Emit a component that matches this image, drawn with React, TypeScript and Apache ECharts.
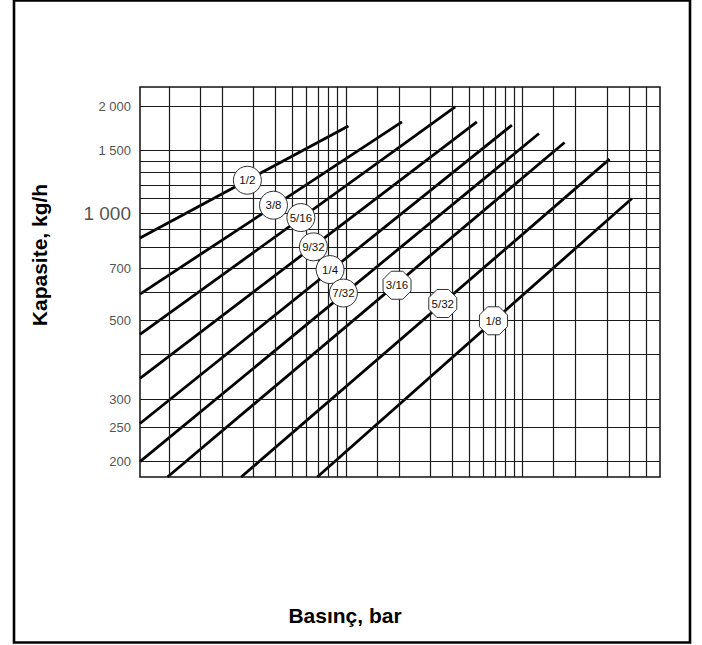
import React, { useEffect, useRef } from "react";
import * as echarts from "echarts";

// Nozzle sizes (inch)
const lineNames = ["1/2", "3/8", "5/16", "9/32", "1/4", "7/32", "3/16", "5/32", "1/8"];
// Pressure (bar) / capacity (kg/h) at each line's start and end
const startPressure = [0.0685, 0.0685, 0.0685, 0.0685, 0.0685, 0.0685, 0.098, 0.256, 0.69];
const startCapacity = [852, 592, 456, 343, 256, 200, 181, 181, 181];
const endPressure = [1.035, 2.08, 4.16, 5.52, 8.71, 12.4, 17.3, 31.1, 41.6];
const endCapacity = [1760, 1807, 1991, 1807, 1769, 1676, 1581, 1419, 1100];
// Label badge positions (on each line)
const labelPressure = [0.2775, 0.39, 0.557, 0.656, 0.815, 0.97, 1.95, 3.54, 6.85];
const labelCapacity = [1238, 1053, 972, 804, 694, 596, 627, 557, 498];
const octagonLabels = ["3/16", "5/32", "1/8"];

// Axes
const xMin = 0.0685;
const xMax = 60;
const yMin = 181;
const yMax = 2265;
const xGridValues = [0.1, 0.15, 0.2, 0.3, 0.4, 0.5, 0.6, 0.7, 0.8, 0.9, 1, 1.5, 2, 3, 4, 5, 6, 7, 8, 9, 10, 15, 20, 30, 40, 50];
const yGridValues = [200, 250, 300, 400, 500, 600, 700, 800, 900, 1000, 1100, 1200, 1300, 1400, 1500, 2000];
const yTickValues = [200, 250, 300, 500, 700, 1000, 1500, 2000];
const yTickTexts = ["200", "250", "300", "500", "700", "1 000", "1 500", "2 000"];

const xTitle = "Basınç, bar";
const yTitle = "Kapasite, kg/h";

const OCTAGON =
  "path://M1.924,1.383L1.383,1.924L0.617,1.924L0.076,1.383L0.076,0.617L0.617,0.076L1.383,0.076L1.924,0.617Z";

export default function App() {
  const ref = useRef<HTMLDivElement>(null);
  useEffect(() => {
    if (!ref.current) return;
    const chart = echarts.init(ref.current, null, { renderer: "svg" });

    const gridLines: any[] = [];
    xGridValues.forEach((v) => gridLines.push({ xAxis: v, label: { show: false } }));
    yGridValues.forEach((v) => {
      const idx = yTickValues.indexOf(v);
      gridLines.push({
        yAxis: v,
        label: {
          show: idx >= 0,
          formatter: idx >= 0 ? yTickTexts[idx] : "",
          fontSize: v === 1000 ? 19 : 13,
        },
      });
    });

    const series: any[] = [
      {
        type: "line",
        name: "grid",
        z: 1,
        data: [],
        silent: true,
        markLine: {
          silent: true,
          symbol: ["none", "none"],
          lineStyle: { type: "solid", color: "#1a1a1a", width: 1.2 },
          label: {
            position: "start",
            distance: 9,
            color: "#555",
            fontFamily: "'Liberation Sans', Arial, sans-serif",
          },
          emphasis: { disabled: true },
          data: gridLines,
        },
      },
    ];

    lineNames.forEach((n, i) => {
      series.push({
        type: "line",
        name: n,
        z: 3,
        symbol: "none",
        silent: true,
        lineStyle: { color: "#000", width: 2.8 },
        data: [
          [startPressure[i], startCapacity[i]],
          [endPressure[i], endCapacity[i]],
        ],
      });
    });

    series.push({
      type: "scatter",
      name: "labels",
      z: 5,
      silent: true,
      symbolSize: 28,
      itemStyle: { color: "#ffffff", opacity: 1, borderColor: "#333", borderWidth: 1 },
      label: {
        show: true,
        position: "inside",
        formatter: "{b}",
        fontFamily: "'Liberation Sans', Arial, sans-serif",
        fontSize: 11.5,
        color: "#111",
        opacity: 1,
        textBorderWidth: 0,
      },
      data: lineNames.map((n, i) => ({
        name: n,
        value: [labelPressure[i], labelCapacity[i]],
        symbol: octagonLabels.indexOf(n) >= 0 ? OCTAGON : "circle",
      })),
    });

    const patch = (x: number, y: number, w: number, h: number) => ({
      type: "rect",
      z: 2,
      silent: true,
      shape: { x, y, width: w, height: h },
      style: { fill: "#fff" },
    });

    chart.setOption({
      animation: false,
      backgroundColor: "#fff",
      grid: {
        left: 140,
        top: 87,
        width: 520,
        height: 390,
        show: true,
        borderColor: "#111",
        borderWidth: 1.5,
        backgroundColor: "transparent",
      },
      xAxis: {
        type: "log",
        logBase: 10,
        min: xMin,
        max: xMax,
        axisLine: { show: false },
        axisTick: { show: false },
        axisLabel: { show: false },
        splitLine: { show: false },
      },
      yAxis: {
        type: "log",
        logBase: 10,
        min: yMin,
        max: yMax,
        axisLine: { show: false },
        axisTick: { show: false },
        axisLabel: { show: false },
        splitLine: { show: false },
      },
      graphic: [
        {
          type: "rect",
          z: 10,
          silent: true,
          shape: { x: 14, y: 0.5, width: 676, height: 642 },
          style: { fill: "none", stroke: "#000", lineWidth: 2.6 },
        },
        patch(353, 100, 18, 12),
        patch(404, 100, 18, 12),
        patch(468, 89, 32, 32),
        patch(504, 89, 33, 34),
        patch(541, 109, 55, 40),
        patch(629, 128, 12, 22),
        patch(631, 175, 27, 21),
        {
          type: "text",
          z: 10,
          x: 345,
          y: 615,
          style: {
            text: xTitle,
            font: "bold 21px 'Liberation Sans', Arial, sans-serif",
            fill: "#000",
            textAlign: "center",
            textVerticalAlign: "middle",
          },
        },
        {
          type: "text",
          z: 10,
          x: 39,
          y: 255,
          rotation: Math.PI / 2,
          style: {
            text: yTitle,
            font: "bold 21px 'Liberation Sans', Arial, sans-serif",
            fill: "#000",
            textAlign: "center",
            textVerticalAlign: "middle",
          },
        },
      ],
      series,
    });
    return () => chart.dispose();
  }, []);
  return (
    <div
      ref={ref}
      style={{ position: "fixed", left: 0, top: 0, width: 702, height: 645, background: "#fff" }}
    />
  );
}
